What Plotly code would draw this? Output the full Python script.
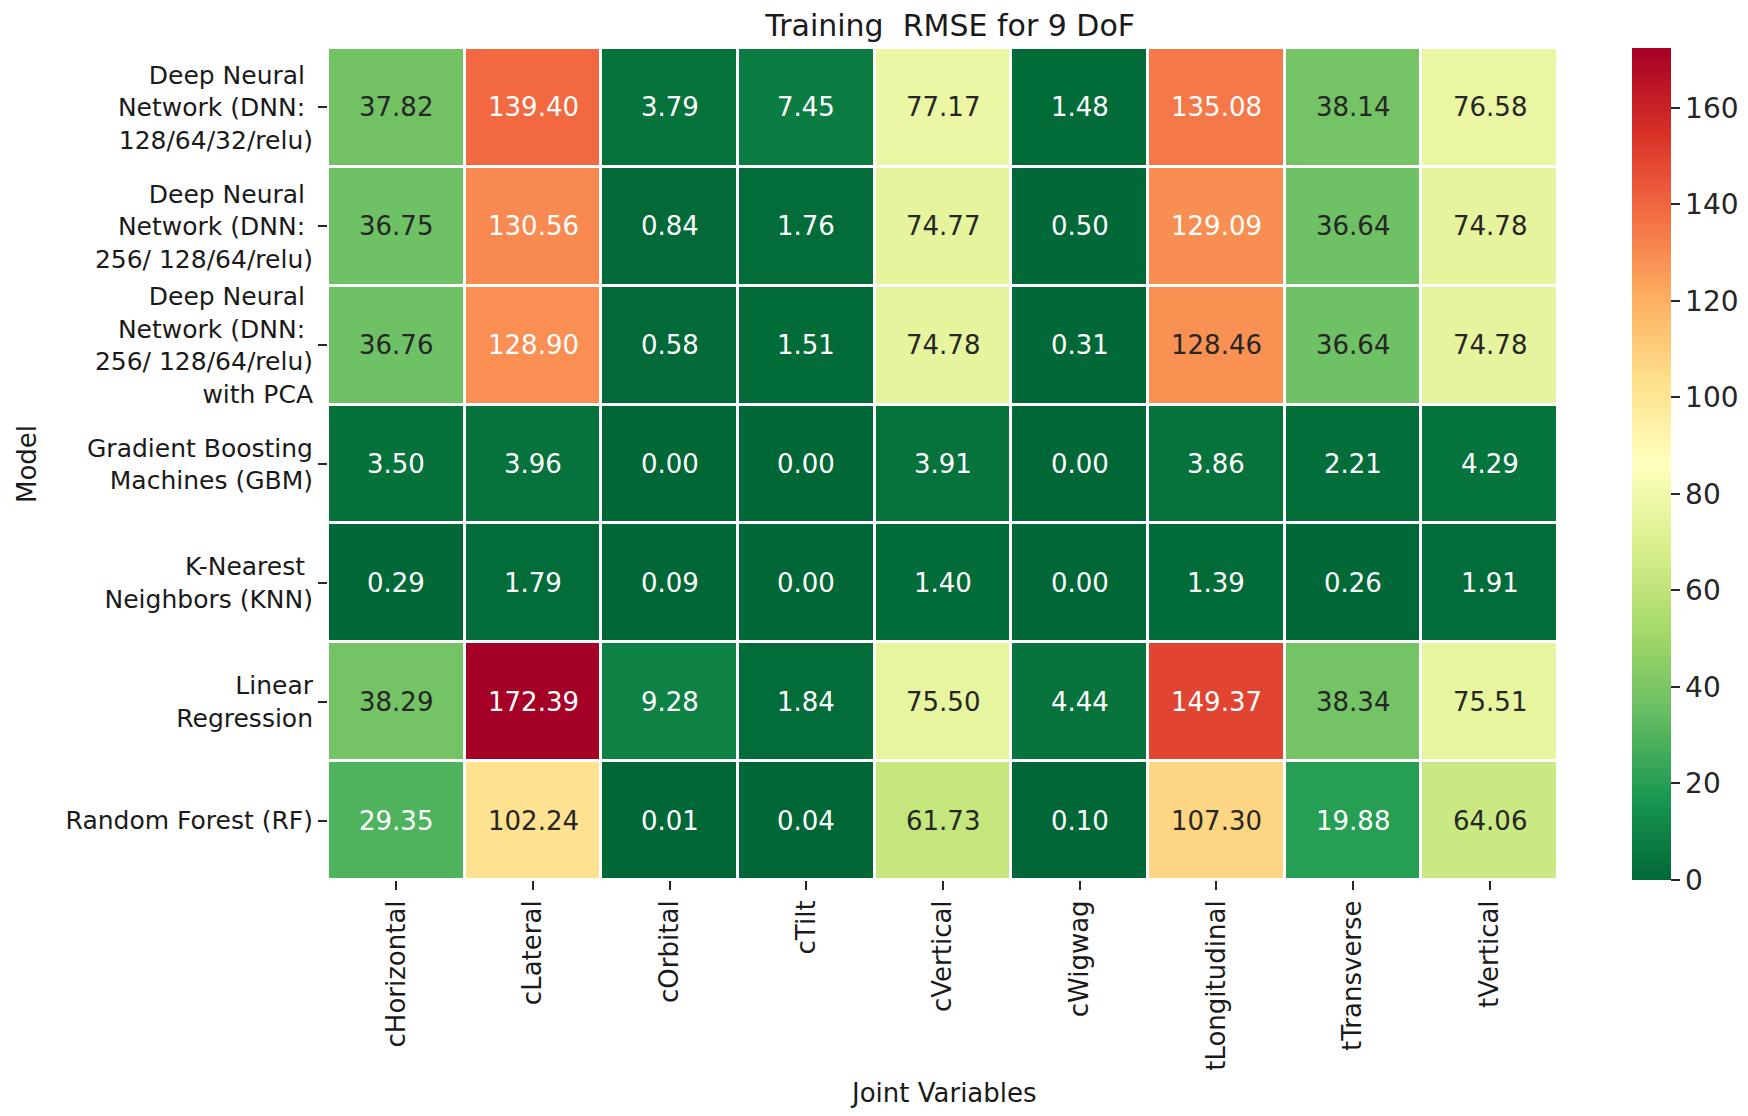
import plotly.graph_objects as go
import numpy as np

models = [
    "Deep Neural <br>Network (DNN: <br>128/64/32/relu)",
    "Deep Neural <br>Network (DNN: <br>256/ 128/64/relu)",
    "Deep Neural <br>Network (DNN: <br>256/ 128/64/relu)<br>with PCA",
    "Gradient Boosting<br>Machines (GBM)",
    "K-Nearest <br>Neighbors (KNN)",
    "Linear<br>Regression",
    "Random Forest (RF)",
]
joints = ["cHorizontal", "cLateral", "cOrbital", "cTilt", "cVertical",
          "cWigwag", "tLongitudinal", "tTransverse", "tVertical"]

dnn_128 = [37.82, 139.40, 3.79, 7.45, 77.17, 1.48, 135.08, 38.14, 76.58]
dnn_256 = [36.75, 130.56, 0.84, 1.76, 74.77, 0.50, 129.09, 36.64, 74.78]
dnn_256_pca = [36.76, 128.90, 0.58, 1.51, 74.78, 0.31, 128.46, 36.64, 74.78]
gbm = [3.50, 3.96, 0.00, 0.00, 3.91, 0.00, 3.86, 2.21, 4.29]
knn = [0.29, 1.79, 0.09, 0.00, 1.40, 0.00, 1.39, 0.26, 1.91]
linreg = [38.29, 172.39, 9.28, 1.84, 75.50, 4.44, 149.37, 38.34, 75.51]
rf = [29.35, 102.24, 0.01, 0.04, 61.73, 0.10, 107.30, 19.88, 64.06]

z = [dnn_128, dnn_256, dnn_256_pca, gbm, knn, linreg, rf]
colorbar_ticks = [0, 20, 40, 60, 80, 100, 120, 140, 160]

rdylgn = [(165, 0, 38), (215, 48, 39), (244, 109, 67), (253, 174, 97), (254, 224, 139),
          (255, 255, 191), (217, 239, 139), (166, 217, 106), (102, 189, 99), (26, 152, 80), (0, 104, 55)]
cmap = rdylgn[::-1]
colorscale = [[i / 10, "rgb(%d,%d,%d)" % c] for i, c in enumerate(cmap)]

zarr = np.array(z)
zmin, zmax = 0.0, float(zarr.max())


def color_at(v):
    t = (v - zmin) / (zmax - zmin) * 10
    i = min(int(np.floor(t)), 9)
    f = t - i
    a, b = np.array(cmap[i]), np.array(cmap[i + 1])
    return (a + (b - a) * f) / 255.0


def lum(rgb):
    rgb = np.where(rgb <= 0.03928, rgb / 12.92, ((rgb + 0.055) / 1.055) ** 2.4)
    return float(rgb.dot([0.2126, 0.7152, 0.0722]))


font = "DejaVu Sans"

fig = go.Figure()
fig.add_trace(go.Heatmap(
    z=z, x=joints, y=models, colorscale=colorscale, zmin=zmin, zmax=zmax,
    xgap=3, ygap=3, hoverinfo="skip",
    colorbar=dict(
        thickness=39, len=1.0, lenmode="fraction", y=0.5, yanchor="middle", ypad=0, xpad=0,
        x=1.060, xanchor="left", outlinewidth=0,
        tickvals=colorbar_ticks, ticks="outside", ticklen=9, tickwidth=1.5,
        tickcolor="#262626", tickfont=dict(family=font, size=28, color="#262626"),
    ),
))

annotations = []
for i, m in enumerate(models):
    for j, jn in enumerate(joints):
        v = z[i][j]
        col = "#262626" if lum(color_at(v)) > 0.408 else "white"
        annotations.append(dict(x=jn, y=m, text="%.2f" % v, showarrow=False,
                                font=dict(family=font, size=26, color=col)))

annotations.append(dict(text="Model", xref="paper", yref="paper", x=-0.2585, y=0.5,
                        xanchor="left", yanchor="middle", textangle=-90, showarrow=False,
                        font=dict(family=font, size=26, color="#1a1a1a")))
annotations.append(dict(text="Joint Variables", xref="paper", yref="paper", x=0.5, y=-0.256,
                        xanchor="center", yanchor="middle", showarrow=False,
                        font=dict(family=font, size=26, color="#1a1a1a")))

fig.update_layout(
    width=1748, height=1116,
    margin=dict(l=320, r=198, t=40, b=244, autoexpand=False),
    paper_bgcolor="white", plot_bgcolor="white",
    title=dict(text="Training  RMSE for 9 DoF", x=0.539, xanchor="center", y=0.9935, yanchor="top",
               font=dict(family=font, size=30, color="#1a1a1a")),
    annotations=annotations,
)
fig.update_xaxes(tickangle=-90, ticks="outside", ticklen=9, tickwidth=1.5, tickcolor="#262626",
                 tickfont=dict(family=font, size=26, color="#1a1a1a"), showgrid=False,
                 zeroline=False, automargin=False)
fig.update_yaxes(autorange="reversed", ticks="outside", ticklen=9, tickwidth=1.5, tickcolor="#262626",
                 tickfont=dict(family=font, size=25, color="#1a1a1a"), showgrid=False,
                 zeroline=False, automargin=False)

fig.write_html("out.html")
